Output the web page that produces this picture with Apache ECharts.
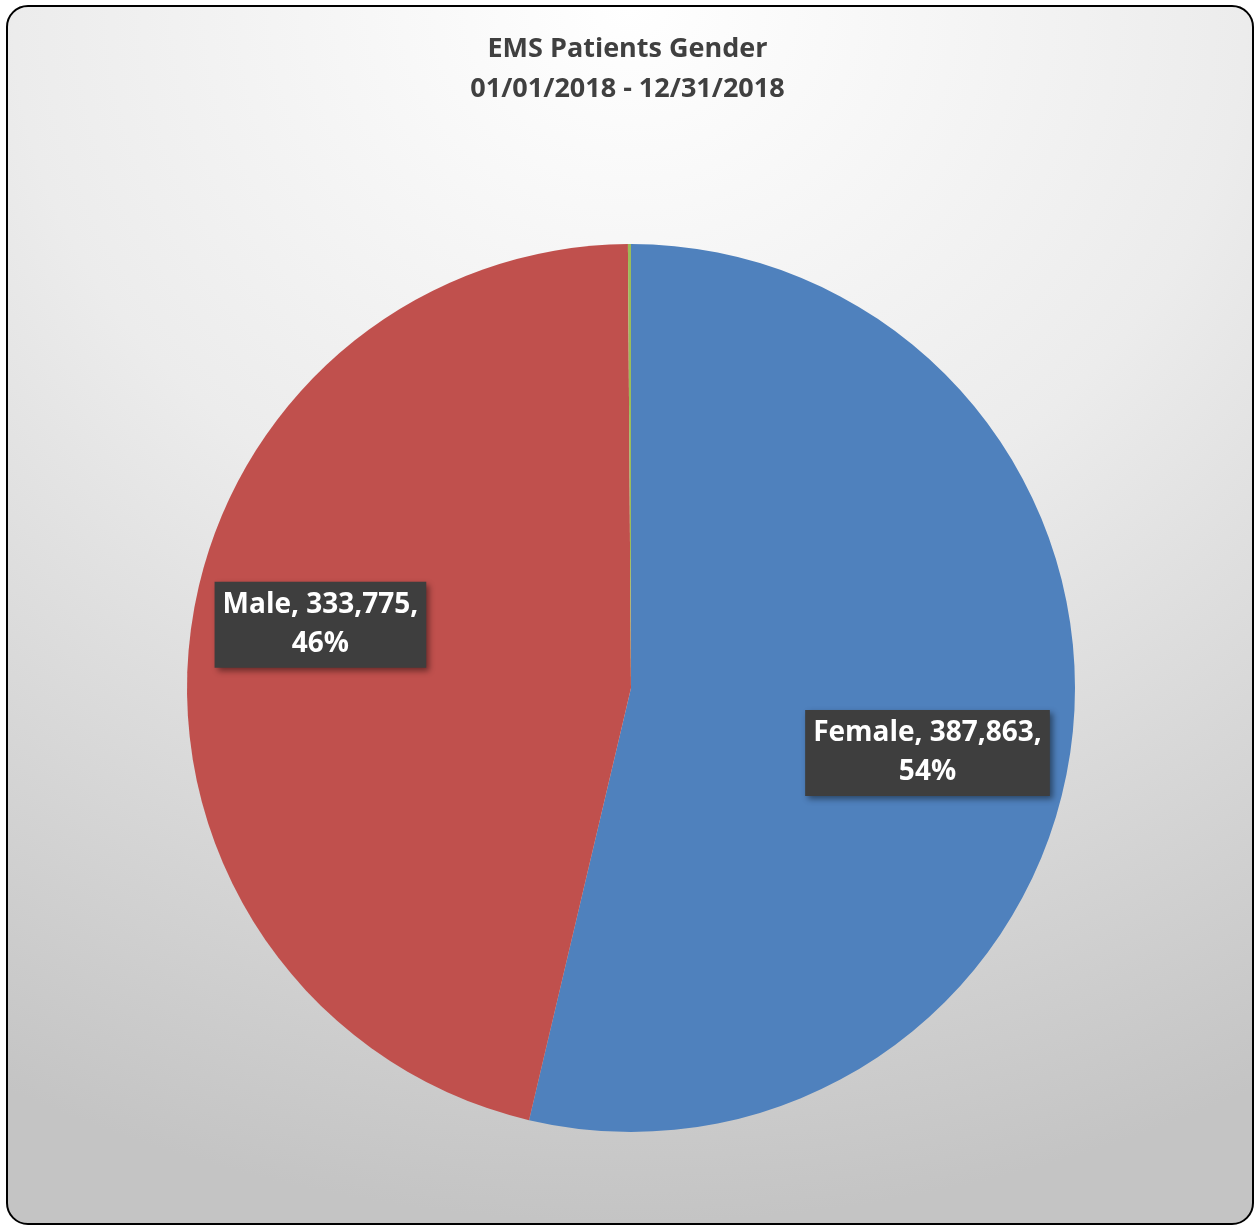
<!DOCTYPE html>
<html>
<head>
<meta charset="utf-8">
<script src="https://cdn.jsdelivr.net/npm/echarts@6/dist/echarts.min.js"></script>
<style>
html,body{margin:0;padding:0;width:1255px;height:1226px;background:#fff;overflow:hidden;}
#frame{position:absolute;left:6px;top:5px;width:1244px;height:1216px;border:2px solid #000;border-radius:22px;
background:radial-gradient(ellipse 110% 100% at 50% 0%, #ffffff 0%, #ececec 45%, #c4c4c4 100%);}
#chart{position:absolute;left:0;top:0;width:1255px;height:1226px;}
</style>
</head>
<body>
<div id="frame"></div>
<div id="chart"></div>
<script>
const titleLines = ['EMS Patients Gender', '01/01/2018 - 12/31/2018'];
const categories = ['Female', 'Male', 'Unknown'];
const values = [387863, 333775, 800];
const colors = ['#4f81bd', '#c0504d', '#9bbb59'];
const showLabel = [true, true, false];
const labelOffsets = [[73, 39], [-87, -38], [0, 0]];

const chart = echarts.init(document.getElementById('chart'));
const data = categories.map((c, i) => ({
  name: c,
  value: values[i],
  itemStyle: { color: colors[i] },
  label: { show: showLabel[i], offset: labelOffsets[i] }
}));

chart.setOption({
  animation: false,
  backgroundColor: 'transparent',
  title: {
    text: titleLines.join('\n'),
    left: 'center',
    top: 24,
    textStyle: {
      fontFamily: 'Open Sans',
      fontSize: 27,
      fontWeight: 'bold',
      color: '#404040',
      lineHeight: 40
    }
  },
  series: [{
    type: 'pie',
    center: [631, 688],
    radius: 444,
    startAngle: 90,
    clockwise: true,
    avoidLabelOverlap: false,
    itemStyle: { borderWidth: 0 },
    label: {
      position: 'inside',
      formatter: p => p.name + ', ' + p.value.toLocaleString('en-US') + ',\n' + Math.round(p.percent) + '%',
      fontFamily: 'Open Sans',
      fontSize: 28,
      fontWeight: 'bold',
      color: '#ffffff',
      lineHeight: 39,
      backgroundColor: '#3e3e3e',
      padding: [7, 8, 1, 8],
      shadowColor: 'rgba(0,0,0,0.45)',
      shadowBlur: 6,
      shadowOffsetX: 3,
      shadowOffsetY: 3
    },
    labelLine: { show: false },
    emphasis: { disabled: true },
    data: data
  }]
});
</script>
</body>
</html>
